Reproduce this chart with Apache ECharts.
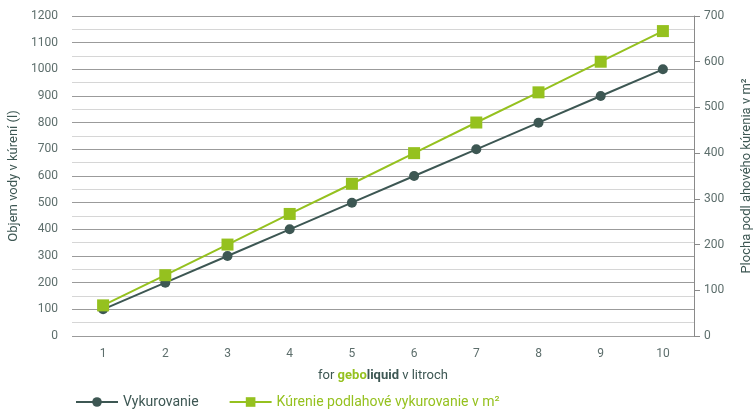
<!DOCTYPE html>
<html><head><meta charset="utf-8">
<script src="https://cdn.jsdelivr.net/npm/echarts@6/dist/echarts.min.js"></script>
<style>html,body{margin:0;padding:0;background:#fff}#c{width:754px;height:414px}</style>
</head><body><div id="c"></div>
<script>
const categories = ['1','2','3','4','5','6','7','8','9','10'];
const vykurovanie = [100,200,300,400,500,600,700,800,900,1000];
const kurenie = [67,133,200,267,333,400,467,533,600,667];
const seriesNames = ['Vykurovanie','Kúrenie podlahové vykurovanie v m²'];
const leftAxisName = 'Objem vody v kúrení (l)';
const rightAxisName = 'Plocha podl ahového kúrenia v m²';

const dark = '#3d5753';
const green = '#95c11f';
const txt = '#5d6e6c';
const font = 'Roboto';

const chart = echarts.init(document.getElementById('c'));
chart.setOption({
  animation:false,
  textStyle:{fontFamily:font},
  grid:{left:72,right:60,top:16,bottom:78,containLabel:false,outerBoundsMode:'none'},
  legend:{
    left:70, bottom:0, itemWidth:42, itemHeight:12, itemGap:30,
    data:[
      {name:seriesNames[0], textStyle:{color:dark}},
      {name:seriesNames[1], textStyle:{color:green}}
    ],
    textStyle:{fontSize:14,fontFamily:font}
  },
  xAxis:{
    type:'category', data:categories, boundaryGap:true,
    axisLine:{show:false}, axisTick:{show:false},
    axisLabel:{color:txt,fontSize:12,margin:12},
    name:'{a|for }{g|gebo}{d|liquid}{a| v litroch}',
    nameLocation:'middle', nameGap:33,
    nameTextStyle:{rich:{
      a:{color:dark,fontSize:13,fontFamily:font},
      g:{color:green,fontSize:13,fontWeight:'bold',fontFamily:font},
      d:{color:dark,fontSize:13,fontWeight:'bold',fontFamily:font}
    }}
  },
  yAxis:[
    {
      type:'value', min:0, max:1200, interval:100, position:'left',
      axisLine:{show:false}, axisTick:{show:false},
      axisLabel:{color:txt,fontSize:12,margin:14,formatter:v=>String(v)},
      splitLine:{show:true,lineStyle:{color:'#9b9b9b',width:1}},
      minorTick:{show:false,splitNumber:2},
      minorSplitLine:{show:true,lineStyle:{color:'#d6d6d6',width:1}},
      name:leftAxisName, nameLocation:'middle', nameGap:52, nameRotate:90,
      nameTextStyle:{color:dark,fontSize:13}
    },
    {
      type:'value', min:0, max:700, interval:100, position:'right',
      axisLine:{show:true,lineStyle:{color:'#8a8a8a',width:1}},
      axisTick:{show:true,length:6,lineStyle:{color:'#8a8a8a'}},
      axisLabel:{color:txt,fontSize:12,margin:10,formatter:v=>String(v)},
      splitLine:{show:false},
      name:rightAxisName, nameLocation:'middle', nameGap:46, nameRotate:90,
      nameTextStyle:{color:dark,fontSize:13}
    }
  ],
  series:[
    {
      name:seriesNames[0], type:'line', yAxisIndex:0, data:vykurovanie,
      symbol:'circle', symbolSize:10,
      lineStyle:{color:dark,width:2}, itemStyle:{color:dark}
    },
    {
      name:seriesNames[1], type:'line', yAxisIndex:1, data:kurenie,
      symbol:'rect', symbolSize:12,
      lineStyle:{color:green,width:2}, itemStyle:{color:green}
    }
  ]
});
</script></body></html>
